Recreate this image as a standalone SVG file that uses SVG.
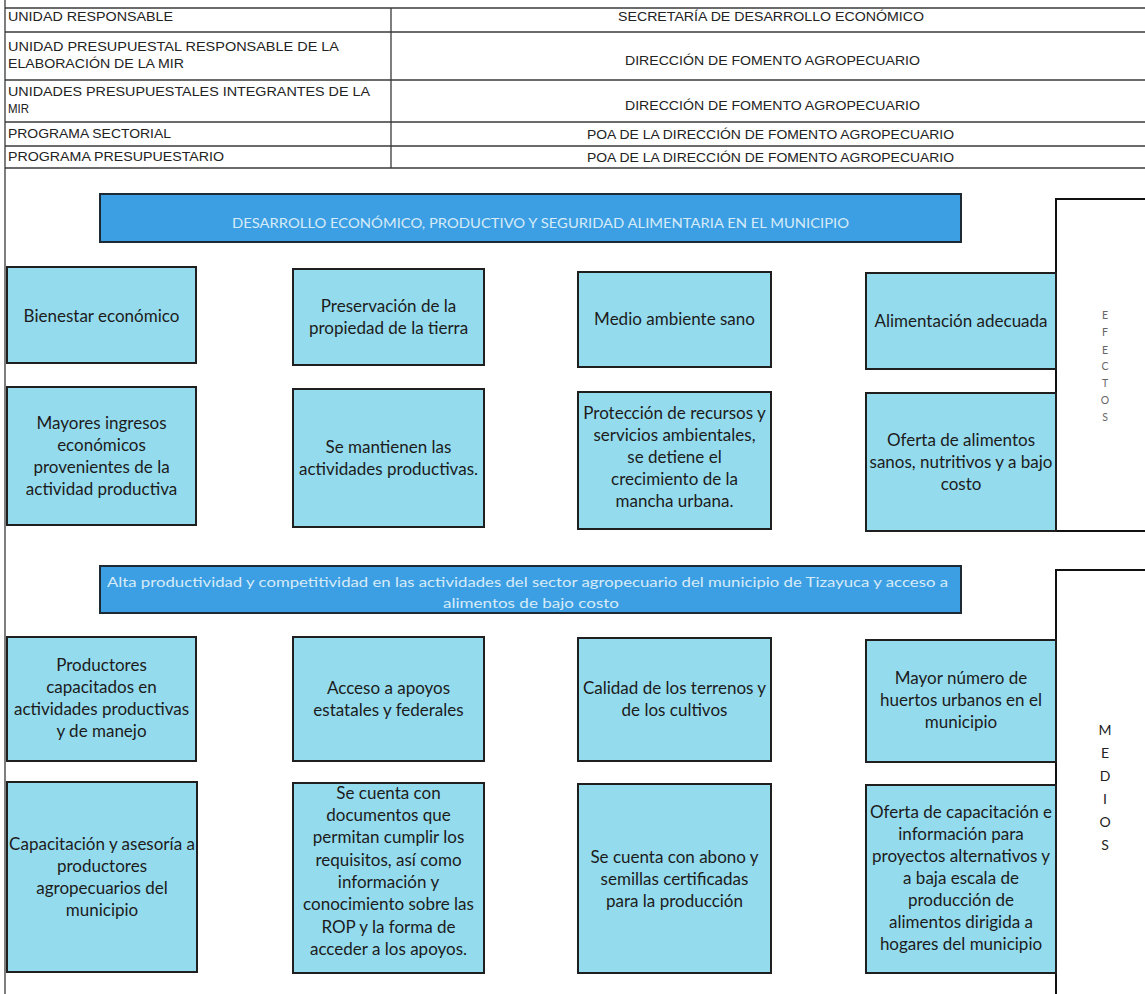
<svg xmlns="http://www.w3.org/2000/svg" width="1145" height="994" viewBox="0 0 1145 994">
<style>
.tl{stroke:#3a3a3a;stroke-width:1.3;fill:none}
.tt{font-family:"Liberation Sans",Arial,sans-serif;font-size:13.5px;fill:#222}
.ban{fill:#3d9fe3;stroke:#1e2a33;stroke-width:2}
.bt{font-family:Lato,"Liberation Sans",sans-serif;font-size:14px;fill:#d6ebf8}
.box{fill:#94dbee;stroke:#1f1f1f;stroke-width:2}
.bx{font-family:Lato,"Liberation Sans",sans-serif;font-size:17px;fill:#1c1c1c;text-anchor:middle}
.pn{fill:#fff;stroke:#111;stroke-width:2}
.ef{font-family:Lato,"Liberation Sans",sans-serif;font-size:10.5px;fill:#666;text-anchor:middle}
.me{font-family:Lato,"Liberation Sans",sans-serif;font-size:14px;fill:#222;text-anchor:middle}
</style>
<rect width="1145" height="994" fill="#fff"/>
<g id="page-border"><line x1="5" y1="0" x2="5" y2="994" class="tl"/></g>
<g id="header-table">
<line x1="5" y1="8" x2="1145" y2="8" class="tl"/>
<line x1="5" y1="32" x2="1145" y2="32" class="tl"/>
<line x1="5" y1="80" x2="1145" y2="80" class="tl"/>
<line x1="5" y1="122" x2="1145" y2="122" class="tl"/>
<line x1="5" y1="146" x2="1145" y2="146" class="tl"/>
<line x1="5" y1="168" x2="1145" y2="168" class="tl"/>
<line x1="391" y1="8" x2="391" y2="168" class="tl"/>
<text class="tt" x="8" y="21" textLength="165" lengthAdjust="spacingAndGlyphs">UNIDAD RESPONSABLE</text>
<text class="tt" x="8" y="51" textLength="331" lengthAdjust="spacingAndGlyphs">UNIDAD PRESUPUESTAL RESPONSABLE DE LA</text>
<text class="tt" x="8" y="68" textLength="176" lengthAdjust="spacingAndGlyphs">ELABORACIÓN DE LA MIR</text>
<text class="tt" x="8" y="96" textLength="362" lengthAdjust="spacingAndGlyphs">UNIDADES PRESUPUESTALES INTEGRANTES DE LA</text>
<text class="tt" x="8" y="113" textLength="21" lengthAdjust="spacingAndGlyphs">MIR</text>
<text class="tt" x="8" y="138" textLength="163" lengthAdjust="spacingAndGlyphs">PROGRAMA SECTORIAL</text>
<text class="tt" x="8" y="161" textLength="216" lengthAdjust="spacingAndGlyphs">PROGRAMA PRESUPUESTARIO</text>
<text class="tt" x="618" y="21" textLength="306" lengthAdjust="spacingAndGlyphs">SECRETARÍA DE DESARROLLO ECONÓMICO</text>
<text class="tt" x="625" y="65" textLength="295" lengthAdjust="spacingAndGlyphs">DIRECCIÓN DE FOMENTO AGROPECUARIO</text>
<text class="tt" x="625" y="110" textLength="295" lengthAdjust="spacingAndGlyphs">DIRECCIÓN DE FOMENTO AGROPECUARIO</text>
<text class="tt" x="587" y="139" textLength="367" lengthAdjust="spacingAndGlyphs">POA DE LA DIRECCIÓN DE FOMENTO AGROPECUARIO</text>
<text class="tt" x="587" y="162" textLength="367" lengthAdjust="spacingAndGlyphs">POA DE LA DIRECCIÓN DE FOMENTO AGROPECUARIO</text>
</g>
<g id="connectors"></g>
<g id="banner-fin">
<rect class="ban" x="100" y="194" width="861" height="48"/>
<text class="bt" x="232" y="228" textLength="617" lengthAdjust="spacingAndGlyphs">DESARROLLO ECONÓMICO, PRODUCTIVO Y SEGURIDAD ALIMENTARIA EN EL MUNICIPIO</text>
</g>
<g id="panel-efectos">
<path class="pn" d="M1146 199 H1056 V531 H1146"/>
<text class="ef" x="1105" y="319">E</text>
<text class="ef" x="1105" y="336">F</text>
<text class="ef" x="1105" y="354">E</text>
<text class="ef" x="1105" y="370">C</text>
<text class="ef" x="1105" y="387">T</text>
<text class="ef" x="1105" y="404">O</text>
<text class="ef" x="1105" y="421">S</text>
</g>
<g id="e1"><rect class="box" x="7" y="267" width="189" height="96"/><text class="bx" x="101.5" y="322">Bienestar económico</text></g>
<g id="e2"><rect class="box" x="293" y="269" width="191" height="96"/><text class="bx" x="388.5" y="312">Preservación de la</text><text class="bx" x="388.5" y="334">propiedad de la tierra</text></g>
<g id="e3"><rect class="box" x="578" y="272" width="193" height="95"/><text class="bx" x="674.5" y="325">Medio ambiente sano</text></g>
<g id="e4"><rect class="box" x="866" y="273" width="190" height="96"/><text class="bx" x="961" y="327">Alimentación adecuada</text></g>
<g id="e5"><rect class="box" x="7" y="387" width="189" height="138"/><text class="bx" x="101.5" y="429">Mayores ingresos</text><text class="bx" x="101.5" y="451">económicos</text><text class="bx" x="101.5" y="473">provenientes de la</text><text class="bx" x="101.5" y="495">actividad productiva</text></g>
<g id="e6"><rect class="box" x="293" y="389" width="191" height="138"/><text class="bx" x="388.5" y="453">Se mantienen las</text><text class="bx" x="388.5" y="475">actividades productivas.</text></g>
<g id="e7"><rect class="box" x="578" y="392" width="193" height="137"/><text class="bx" x="674.5" y="419">Protección de recursos y</text><text class="bx" x="674.5" y="441">servicios ambientales,</text><text class="bx" x="674.5" y="463">se detiene el</text><text class="bx" x="674.5" y="485">crecimiento de la</text><text class="bx" x="674.5" y="507">mancha urbana.</text></g>
<g id="e8"><rect class="box" x="866" y="393" width="190" height="138"/><text class="bx" x="961" y="446">Oferta de alimentos</text><text class="bx" x="961" y="468">sanos, nutritivos y a bajo</text><text class="bx" x="961" y="490">costo</text></g>
<g id="banner-proposito">
<rect class="ban" x="100" y="566" width="861" height="47"/>
<text class="bt" x="107" y="587" textLength="841" lengthAdjust="spacingAndGlyphs">Alta productividad y competitividad en las actividades del sector agropecuario del municipio de Tizayuca y acceso a</text>
<text class="bt" x="443" y="608" textLength="176" lengthAdjust="spacingAndGlyphs">alimentos de bajo costo</text>
</g>
<g id="panel-medios">
<path class="pn" d="M1146 570 H1056 V995"/>
<text class="me" x="1105" y="735">M</text>
<text class="me" x="1105" y="758">E</text>
<text class="me" x="1105" y="781">D</text>
<text class="me" x="1105" y="804">I</text>
<text class="me" x="1105" y="827">O</text>
<text class="me" x="1105" y="850">S</text>
</g>
<g id="m1"><rect class="box" x="7" y="637" width="189" height="124"/><text class="bx" x="101.5" y="671">Productores</text><text class="bx" x="101.5" y="693">capacitados en</text><text class="bx" x="101.5" y="715">actividades productivas</text><text class="bx" x="101.5" y="737">y de manejo</text></g>
<g id="m2"><rect class="box" x="293" y="637" width="191" height="124"/><text class="bx" x="388.5" y="694">Acceso a apoyos</text><text class="bx" x="388.5" y="716">estatales y federales</text></g>
<g id="m3"><rect class="box" x="578" y="638" width="193" height="123"/><text class="bx" x="674.5" y="694">Calidad de los terrenos y</text><text class="bx" x="674.5" y="716">de los cultivos</text></g>
<g id="m4"><rect class="box" x="866" y="640" width="190" height="122"/><text class="bx" x="961" y="684">Mayor número de</text><text class="bx" x="961" y="706">huertos urbanos en el</text><text class="bx" x="961" y="728">municipio</text></g>
<g id="m5"><rect class="box" x="7" y="782" width="190" height="190"/><text class="bx" x="102" y="850">Capacitación y asesoría a</text><text class="bx" x="102" y="872">productores</text><text class="bx" x="102" y="894">agropecuarios del</text><text class="bx" x="102" y="916">municipio</text></g>
<g id="m6"><rect class="box" x="293" y="783" width="191" height="190"/><text class="bx" x="388.5" y="799">Se cuenta con</text><text class="bx" x="388.5" y="821">documentos que</text><text class="bx" x="388.5" y="843">permitan cumplir los</text><text class="bx" x="388.5" y="866">requisitos, así como</text><text class="bx" x="388.5" y="888">información y</text><text class="bx" x="388.5" y="910">conocimiento sobre las</text><text class="bx" x="388.5" y="933">ROP y la forma de</text><text class="bx" x="388.5" y="955">acceder a los apoyos.</text></g>
<g id="m7"><rect class="box" x="578" y="784" width="193" height="189"/><text class="bx" x="674.5" y="863">Se cuenta con abono y</text><text class="bx" x="674.5" y="885">semillas certificadas</text><text class="bx" x="674.5" y="907">para la producción</text></g>
<g id="m8"><rect class="box" x="866" y="785" width="190" height="188"/><text class="bx" x="961" y="818">Oferta de capacitación e</text><text class="bx" x="961" y="840">información para</text><text class="bx" x="961" y="862">proyectos alternativos y</text><text class="bx" x="961" y="884">a baja escala de</text><text class="bx" x="961" y="906">producción de</text><text class="bx" x="961" y="928">alimentos dirigida a</text><text class="bx" x="961" y="950">hogares del municipio</text></g>
</svg>
